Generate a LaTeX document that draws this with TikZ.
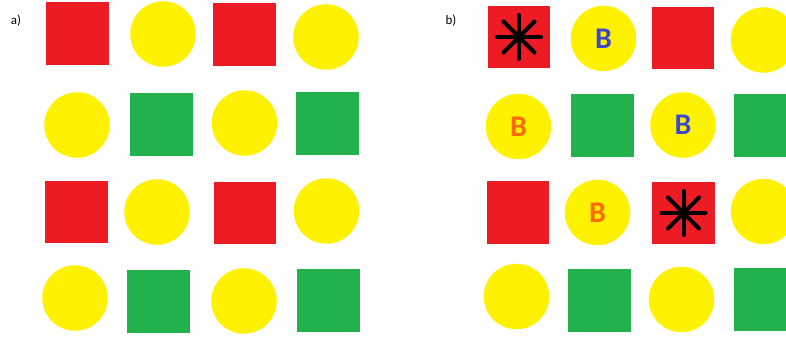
\documentclass[tikz,border=0pt]{standalone}
\usepackage{fontspec}
\setmainfont{Carlito}
\usetikzlibrary{calc}
\definecolor{paintred}{RGB}{237,28,36}
\definecolor{paintyellow}{RGB}{255,242,0}
\definecolor{paintgreen}{RGB}{34,177,76}
\definecolor{paintblue}{RGB}{63,72,204}
\definecolor{paintorange}{RGB}{255,106,0}
\tikzset{
    grid picture/.style = {x=1pt, y=-1pt},
    tile/.style         = {inner sep=0pt, outer sep=0pt},
    redsq/.style        = {tile, rectangle, fill=paintred,
                           minimum size=62.5pt},
    greensq/.style      = {tile, rectangle, fill=paintgreen,
                           minimum size=63pt},
    yellowdot/.style    = {tile, circle, fill=paintyellow,
                           minimum size=65.5pt},
    bmark/.style        = {font=\fontsize{30}{30}\selectfont\bfseries},
    bblue/.style        = {bmark, text=paintblue},
    borange/.style      = {bmark, text=paintorange},
    panel/.style        = {font=\fontsize{13}{13}\selectfont},
    spoke/.style        = {line width=4pt, line cap=round}
}

\begin{document}
\begin{tikzpicture}[grid picture]
\useasboundingbox (0,0) rectangle (786,337);
\clip (0,0) rectangle (786,337);

% panel a
\node[panel] (labela) at (16,21) {a)};

\node[redsq]     (a11) at (77.5,33.5) {};
\node[yellowdot] (a12) at (163,34)    {};
\node[redsq]     (a13) at (244.5,34.5) {};
\node[yellowdot] (a14) at (326,37)    {};

\node[yellowdot] (a21) at (77,125)    {};
\node[greensq]   (a22) at (161.5,124) {};
\node[yellowdot] (a23) at (244.5,123) {};
\node[greensq]   (a24) at (327,123)   {};

\node[redsq]     (a31) at (76.5,212)  {};
\node[yellowdot] (a32) at (157,212)   {};
\node[redsq]     (a33) at (245,213)   {};
\node[yellowdot] (a34) at (326.5,211) {};

\node[yellowdot] (a41) at (75,298)    {};
\node[greensq]   (a42) at (158.5,301) {};
\node[yellowdot] (a43) at (244,301)   {};
\node[greensq]   (a44) at (328,300)   {};

% panel b
\node[panel] (labelb) at (451,21) {b)};

\node[redsq]     (b11) at (519,37)     {};
\node[yellowdot, bblue] (b12) at (603.5,38.5) {B};
\node[redsq]     (b13) at (683,38)     {};
\node[yellowdot] (b14) at (763.5,40)   {};

\node[yellowdot, borange] (b21) at (518.5,126.5) {B};
\node[greensq]   (b22) at (602,125.5)  {};
\node[yellowdot, bblue] (b23) at (683,125) {B};
\node[greensq]   (b24) at (765,125)    {};

\node[redsq]     (b31) at (518,212.5)  {};
\node[yellowdot, borange] (b32) at (597.5,212.5) {B};
\node[redsq]     (b33) at (683.5,213)  {};
\node[yellowdot] (b34) at (763.5,211.5) {};

\node[yellowdot] (b41) at (516.5,296.5) {};
\node[greensq]   (b42) at (599,300)    {};
\node[yellowdot] (b43) at (681.5,299.5) {};
\node[greensq]   (b44) at (765,299)    {};

% stars on the marked squares
\foreach \sq in {b11,b33}
    \foreach \a in {0,45,90,135}
        \draw[spoke] ($(\sq)+(\a:22)$) -- ($(\sq)+(\a+180:22)$);

\end{tikzpicture}
\end{document}
